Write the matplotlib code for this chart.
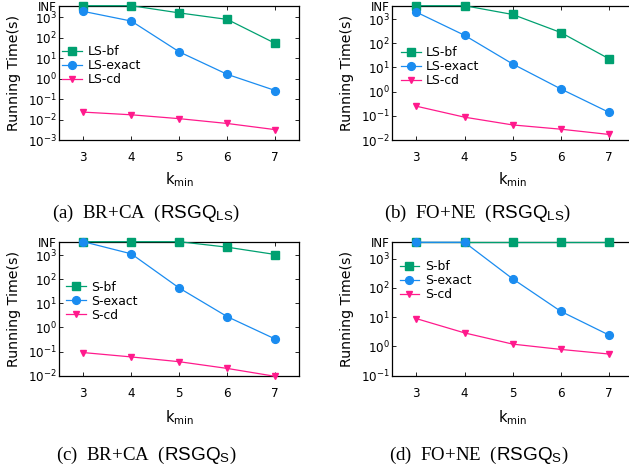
import matplotlib
matplotlib.use("Agg")
import matplotlib.pyplot as plt
import numpy as np

plt.rcParams['font.family'] = ['DejaVu Sans']
plt.rcParams['mathtext.fontset'] = 'custom'
plt.rcParams['mathtext.rm'] = 'DejaVu Sans'
plt.rcParams['mathtext.sf'] = 'Liberation Sans'
plt.rcParams['mathtext.it'] = 'DejaVu Sans:italic'
plt.rcParams['mathtext.default'] = 'regular'

INF = 3600.0
k_min = [3, 4, 5, 6, 7]

# (a) BR+CA, RSGQ_LS
a_bf = [INF, INF, 1600, 770, 52]
a_exact = [1900, 640, 20, 1.6, 0.26]
a_cd = [0.023, 0.017, 0.011, 0.0064, 0.0032]

# (b) FO+NE, RSGQ_LS
b_bf = [INF, INF, 1560, 280, 23]
b_exact = [1950, 215, 14, 1.3, 0.14]
b_cd = [0.25, 0.088, 0.042, 0.028, 0.017]

# (c) BR+CA, RSGQ_S
c_bf = [INF, INF, INF, 2130, 1060]
c_exact = [INF, 1130, 43, 2.8, 0.33]
c_cd = [0.091, 0.06, 0.038, 0.02, 0.0094]

# (d) FO+NE, RSGQ_S
d_bf = [INF, INF, INF, INF, INF]
d_exact = [INF, INF, 204, 15.8, 2.45]
d_cd = [8.9, 2.9, 1.2, 0.79, 0.55]

GREEN = '#00a070'
BLUE = '#1a8cf0'
PINK = '#ff1a8c'

W, H = 629, 465
fig = plt.figure(figsize=(W / 100, H / 100), dpi=100)

def make_ax(x0, y0, x1, y1):
    return fig.add_axes([x0 / W, 1 - y1 / H, (x1 - x0) / W, (y1 - y0) / H])

panels = [
    dict(box=(59.3, 5.7, 299.3, 140.0), data=(a_bf, a_exact, a_cd), ymin_exp=-3,
         names=('LS-bf', 'LS-exact', 'LS-cd'), leg=(0.012, 0.705), xl=-0.225,
         cap=r"(a)  BR+CA  ($\mathsf{RSGQ}_{\mathsf{LS}}$)", capxy=(146, 213)),
    dict(box=(392.3, 5.7, 633.0, 140.0), data=(b_bf, b_exact, b_cd), ymin_exp=-2,
         names=('LS-bf', 'LS-exact', 'LS-cd'), leg=(0.035, 0.70), xl=-0.225,
         cap=r"(b)  FO+NE  ($\mathsf{RSGQ}_{\mathsf{LS}}$)", capxy=(477, 213)),
    dict(box=(59.3, 241.7, 299.3, 375.7), data=(c_bf, c_exact, c_cd), ymin_exp=-2,
         names=('S-bf', 'S-exact', 'S-cd'), leg=(0.028, 0.71), xl=-0.245,
         cap=r"(c)  BR+CA  ($\mathsf{RSGQ}_{\mathsf{S}}$)", capxy=(146, 455)),
    dict(box=(392.3, 242.3, 633.0, 375.7), data=(d_bf, d_exact, d_cd), ymin_exp=-1,
         names=('S-bf', 'S-exact', 'S-cd'), leg=(0.03, 0.865), xl=-0.245,
         cap=r"(d)  FO+NE  ($\mathsf{RSGQ}_{\mathsf{S}}$)", capxy=(479, 455)),
]

FS = 8.6
for p in panels:
    ax = make_ax(*p['box'])
    bf, ex, cd = p['data']
    ax.plot(k_min, bf, color=GREEN, lw=0.9, marker='s', ms=6.2, label=p['names'][0], clip_on=False, zorder=3)
    ax.plot(k_min, ex, color=BLUE, lw=0.9, marker='o', ms=5.6, label=p['names'][1], clip_on=False, zorder=4)
    ax.plot(k_min, cd, color=PINK, lw=0.9, marker='v', ms=4.8, label=p['names'][2], clip_on=False, zorder=5)
    ax.set_yscale('log')
    ax.set_xlim(2.5, 7.5)
    ax.set_ylim(10.0 ** p['ymin_exp'], INF)
    exps = list(range(p['ymin_exp'], 4))
    ticks = [10.0 ** e for e in exps] + [INF]
    labels = [r'$10^{%d}$' % e for e in exps] + ['INF']
    ax.set_yticks(ticks)
    ax.set_yticklabels(labels)
    ax.yaxis.set_minor_locator(matplotlib.ticker.NullLocator())
    ax.set_xticks(k_min)
    ax.set_xticklabels([str(k) for k in k_min])
    ax.tick_params(axis='both', which='major', direction='in', length=3, width=0.6,
                   top=True, right=True, labelsize=FS, colors='black')
    ax.tick_params(axis='y', pad=2)
    ax.tick_params(axis='x', pad=8)
    for s in ax.spines.values():
        s.set_linewidth(0.9)
    ax.set_ylabel('Running Time(s)', fontsize=10.2)
    ax.yaxis.set_label_coords(-0.158, 0.5)
    ax.set_xlabel(r'$k_{min}$', fontsize=10.5)
    ax.xaxis.set_label_coords(0.5, p['xl'])
    leg = ax.legend(loc='upper left', bbox_to_anchor=p['leg'], frameon=False, fontsize=8.9,
                    handlelength=1.6, handletextpad=0.45, labelspacing=0.08, borderpad=0,
                    borderaxespad=0)
    fig.text(p['capxy'][0] / W, 1 - p['capxy'][1] / H, p['cap'], ha='center', va='center',
             fontsize=13.6, family='Liberation Serif')

fig.savefig('out.png', dpi=100)
